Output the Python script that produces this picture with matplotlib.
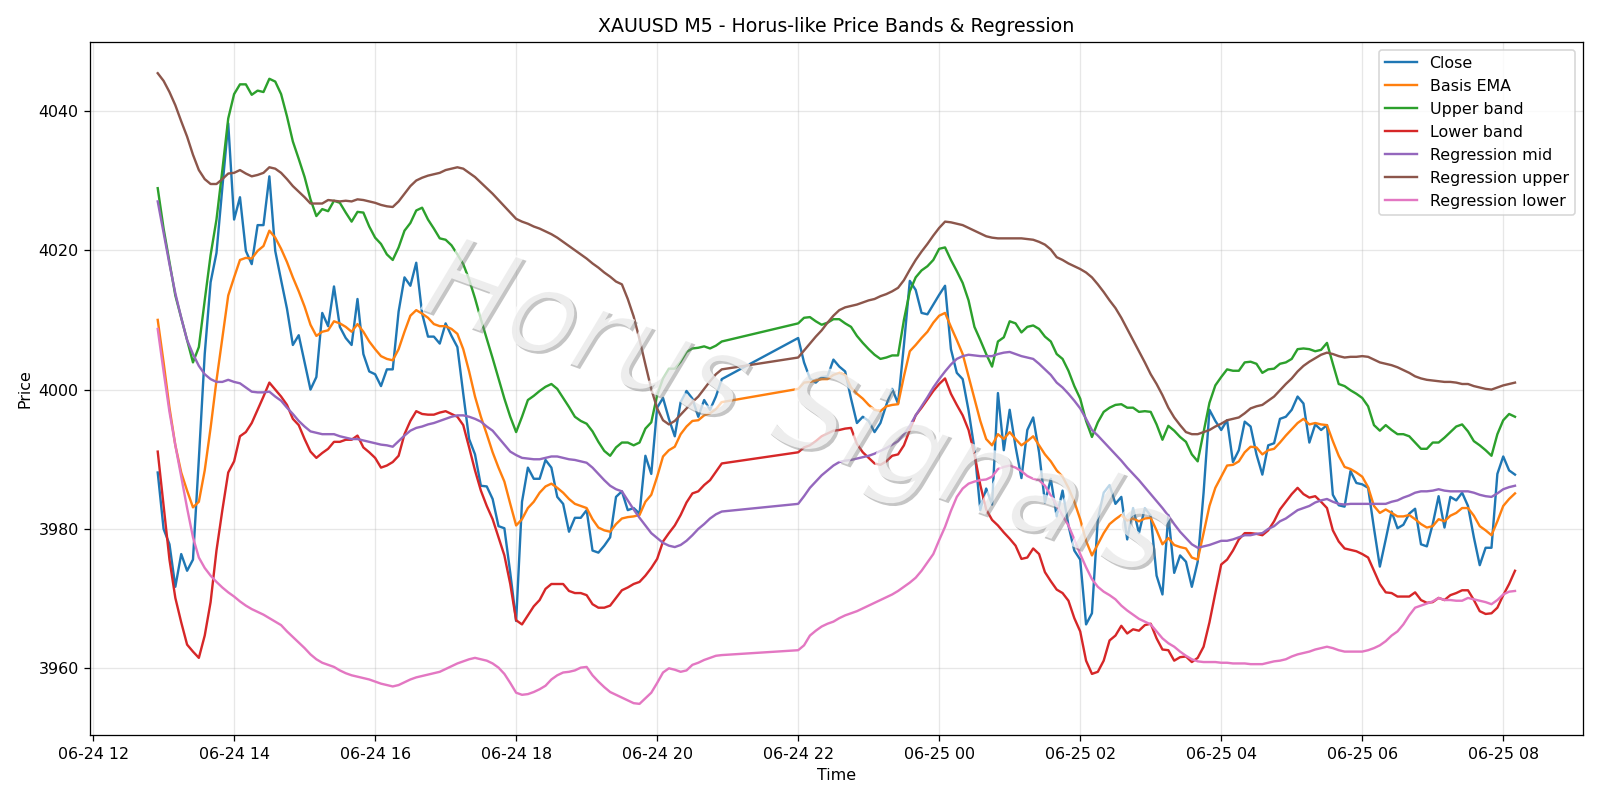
import matplotlib
matplotlib.use("Agg")
import matplotlib.pyplot as plt
import matplotlib.dates as mdates
import matplotlib.patheffects as pe
import pandas as pd

# ---- time axis: two trading sessions of M5 bars (gap 21:00-21:55) ----
session1_start = "2025-06-24 12:55"
session1_bars = 97
session2_start = "2025-06-24 22:00"
session2_bars = 123

close = [
    3988.1, 3980.0, 3977.8, 3971.7, 3976.4, 3974.0, 3975.6, 3990.0, 4005.1, 4015.4,
    4019.6, 4029.0, 4038.2, 4024.4, 4027.6, 4019.9, 4018.0, 4023.6, 4023.6, 4030.6,
    4019.9, 4015.7, 4011.6, 4006.4, 4007.8, 4003.9, 4000.0, 4001.8, 4011.0, 4009.1,
    4014.8, 4009.0, 4007.4, 4006.4, 4013.0, 4005.1, 4002.6, 4002.2, 4000.5, 4002.9,
    4002.9, 4011.2, 4016.1, 4014.9, 4018.2, 4010.9, 4007.6, 4007.6, 4006.6, 4009.5,
    4007.7, 4006.1, 3999.4, 3992.9, 3990.7, 3986.2, 3986.1, 3984.3, 3980.4, 3980.1,
    3973.7, 3966.8, 3983.9, 3988.8, 3987.2, 3987.2, 3989.9, 3988.8, 3984.6, 3983.6,
    3979.6, 3981.6, 3981.6, 3982.7, 3976.9, 3976.6, 3977.6, 3978.8, 3984.6, 3985.4,
    3982.7, 3983.0, 3982.2, 3990.5, 3987.9, 3997.4, 3998.8, 3995.8, 3993.3, 3998.2,
    3999.8, 3998.7, 3996.1, 3998.5, 3997.1, 3999.0, 4001.5,
    4007.4, 4003.9, 4001.6, 4001.0, 4001.8, 4001.9, 4004.3, 4003.3, 4002.6, 3998.7,
    3995.2, 3996.1, 3995.5, 3993.9, 3995.2, 3997.8, 4000.1, 3998.0, 4006.4, 4015.6,
    4014.3, 4011.0, 4010.8, 4012.2, 4013.6, 4014.9, 4005.8, 4002.4, 4001.5, 3997.0,
    3991.5, 3982.7, 3985.8, 3983.5, 3999.5, 3991.3, 3997.1, 3991.8, 3987.3, 3994.2,
    3996.0, 3991.0, 3983.8, 3987.2, 3981.8, 3985.5, 3980.5, 3976.9, 3975.6, 3966.3,
    3967.9, 3981.4, 3985.2, 3986.3, 3983.6, 3984.6, 3978.5, 3983.0, 3979.4, 3983.0,
    3981.9, 3973.3, 3970.6, 3982.0, 3973.7, 3976.2, 3975.3, 3971.7, 3975.3, 3985.2,
    3997.1, 3995.5, 3994.2, 3995.6, 3989.6, 3991.3, 3995.4, 3994.7, 3990.7, 3987.8,
    3992.0, 3992.3, 3995.8, 3996.1, 3997.1, 3999.0, 3998.0, 3992.4, 3995.0, 3994.2,
    3994.9, 3984.9, 3983.4, 3983.2, 3988.3, 3986.6, 3986.4, 3985.9, 3980.1, 3974.6,
    3978.5, 3982.5, 3980.1, 3980.6, 3982.2, 3982.9, 3977.8, 3977.5, 3980.7, 3984.7,
    3980.2, 3984.6, 3984.1, 3985.2, 3983.3, 3978.8, 3974.8, 3977.3, 3977.3, 3987.9,
    3990.4, 3988.4, 3987.8,
]

basis_ema = [
    4010.0, 4003.9, 3997.4, 3992.0, 3988.1, 3985.5, 3983.1, 3983.9, 3988.4, 3994.5,
    4001.3, 4007.4, 4013.5, 4016.1, 4018.6, 4018.9, 4018.8, 4019.9, 4020.6, 4022.8,
    4021.8, 4020.2, 4018.3, 4016.1, 4014.1, 4011.9, 4009.3, 4007.7, 4008.3, 4008.5,
    4009.8, 4009.5, 4009.0, 4008.3, 4009.4, 4008.3, 4006.9, 4005.8, 4004.8, 4004.4,
    4004.2, 4005.8, 4008.3, 4010.6, 4011.4, 4010.9, 4010.3, 4009.4, 4009.1, 4009.1,
    4008.7, 4008.0, 4005.8, 4002.6, 3999.0, 3996.1, 3993.6, 3991.0, 3988.8, 3986.8,
    3983.6, 3980.5, 3981.4, 3983.0, 3983.9, 3985.2, 3986.1, 3986.5, 3985.9, 3985.2,
    3984.3, 3983.6, 3983.3, 3983.0, 3981.4, 3980.2, 3979.8, 3979.6, 3980.7, 3981.5,
    3981.7, 3981.8, 3982.0, 3983.9, 3984.9, 3987.5, 3990.4, 3991.3, 3991.8, 3993.6,
    3994.7, 3995.5, 3995.6, 3996.3, 3996.6, 3997.2, 3998.2,
    4000.1, 4001.0, 4001.1, 4001.3, 4001.5, 4001.5, 4002.1, 4002.4, 4002.1, 4000.3,
    3999.4, 3998.7, 3997.8, 3997.1, 3996.9, 3997.6, 3997.8, 3997.9, 4001.9, 4005.5,
    4006.4, 4007.4, 4008.3, 4009.6, 4010.6, 4011.0, 4009.0, 4007.1, 4005.1, 4001.9,
    3998.7, 3995.5, 3992.9, 3992.0, 3993.6, 3992.9, 3993.9, 3992.9, 3992.0, 3992.6,
    3993.3, 3992.0, 3990.7, 3989.7, 3988.4, 3987.5, 3985.9, 3983.9, 3981.4, 3978.3,
    3976.2, 3977.8, 3979.4, 3980.7, 3981.4, 3982.0, 3981.2, 3981.5, 3981.1, 3981.5,
    3981.6, 3979.8, 3977.8, 3978.7, 3977.7, 3977.4, 3977.2, 3975.9, 3975.6, 3979.4,
    3983.3, 3985.9, 3987.5, 3989.1, 3989.2, 3989.7, 3991.0, 3991.8, 3991.7, 3990.7,
    3991.3, 3991.5, 3992.4, 3993.4, 3994.3, 3995.2, 3995.8, 3995.0, 3995.2, 3995.0,
    3994.9, 3992.6, 3990.5, 3988.9, 3988.6, 3988.1, 3987.5, 3986.0, 3983.3, 3982.3,
    3982.8, 3982.3, 3981.8, 3981.8, 3982.0, 3981.4, 3980.7, 3980.2, 3980.4, 3981.4,
    3981.1, 3981.9, 3982.3, 3983.0, 3983.0, 3981.9, 3980.4, 3979.8, 3979.1, 3981.1,
    3983.3, 3984.3, 3985.1,
]

upper_band = [
    4028.9, 4023.1, 4018.3, 4013.5, 4010.3, 4007.1, 4003.9, 4006.1, 4012.8, 4019.3,
    4024.4, 4031.5, 4038.9, 4042.4, 4043.8, 4043.8, 4042.3, 4042.9, 4042.7, 4044.6,
    4044.2, 4042.4, 4039.2, 4035.6, 4033.1, 4030.5, 4027.3, 4024.9, 4025.9, 4025.6,
    4027.1, 4026.8, 4025.4, 4024.1, 4025.5, 4025.4, 4023.4, 4021.8, 4020.9, 4019.4,
    4018.6, 4020.4, 4022.8, 4023.9, 4025.7, 4026.1, 4024.4, 4023.1, 4021.7, 4021.5,
    4020.7, 4019.4, 4018.0, 4015.8, 4013.1, 4010.1, 4007.3, 4004.5, 4001.6, 3998.7,
    3996.1, 3993.9, 3996.1, 3998.5, 3999.1, 3999.8, 4000.4, 4000.8, 4000.1, 3998.8,
    3997.5, 3996.1, 3995.5, 3995.1, 3994.0, 3992.5, 3991.2, 3990.5, 3991.7, 3992.4,
    3992.4, 3992.0, 3992.4, 3994.4, 3995.3, 3999.2, 4001.6, 4003.0, 4003.0, 4004.0,
    4005.4, 4005.9, 4006.0, 4006.2, 4005.9, 4006.3, 4006.9,
    4009.5, 4010.3, 4010.4, 4009.8, 4009.3, 4009.6, 4010.1, 4010.1, 4009.5, 4009.0,
    4007.7, 4006.7, 4005.8, 4005.0, 4004.4, 4004.6, 4004.9, 4004.9, 4010.0, 4014.1,
    4016.1, 4017.1, 4017.7, 4018.6, 4020.2, 4020.4, 4018.6, 4017.0, 4015.3, 4012.8,
    4009.0, 4007.1, 4005.1, 4003.3, 4006.9, 4007.5, 4009.8, 4009.5, 4008.2, 4009.0,
    4009.2, 4008.7, 4007.6, 4006.9, 4005.1, 4004.4, 4002.7, 4000.5, 3998.7, 3995.5,
    3993.2, 3995.3, 3996.8, 3997.4, 3997.8, 3997.9, 3997.4, 3997.4, 3996.8, 3996.9,
    3996.8, 3995.0, 3992.8, 3994.8, 3994.1, 3993.2, 3992.5, 3990.7, 3989.7, 3993.9,
    3998.1, 4000.6, 4001.8, 4002.9, 4002.7, 4002.7, 4003.9, 4004.0, 4003.7, 4002.4,
    4002.9, 4003.0, 4003.7, 4003.9, 4004.4, 4005.8, 4005.9, 4005.8, 4005.5, 4005.7,
    4006.7, 4003.7, 4000.8, 4000.5, 3999.9, 3999.4, 3998.8, 3997.6, 3994.9, 3994.1,
    3994.9, 3994.2, 3993.6, 3993.6, 3993.3, 3992.4, 3991.5, 3991.5, 3992.4, 3992.4,
    3993.1, 3993.9, 3994.7, 3995.0, 3994.0, 3992.6, 3992.0, 3991.3, 3990.5, 3993.6,
    3995.6, 3996.5, 3996.1,
]

lower_band = [
    3991.1, 3983.3, 3975.6, 3970.1, 3966.6, 3963.4, 3962.4, 3961.5, 3964.7, 3969.5,
    3976.9, 3982.7, 3988.1, 3989.7, 3993.3, 3993.9, 3995.2, 3997.1, 3999.0, 4001.0,
    4000.0, 3999.0, 3997.8, 3995.8, 3994.9, 3992.9, 3991.1, 3990.2, 3990.9, 3991.5,
    3992.5, 3992.5, 3992.8, 3992.8, 3993.4, 3991.7, 3991.0, 3990.2, 3988.8, 3989.1,
    3989.6, 3990.5, 3993.6, 3995.5, 3996.9, 3996.5, 3996.4, 3996.4, 3996.7, 3996.9,
    3996.5, 3996.1, 3994.9, 3991.7, 3988.4, 3985.5, 3983.3, 3981.4, 3978.8, 3976.2,
    3972.1, 3966.9, 3966.3, 3967.6, 3968.9, 3969.8, 3971.4, 3972.1, 3972.1, 3972.1,
    3971.1, 3970.8, 3970.8, 3970.5, 3969.2, 3968.7, 3968.7, 3969.0, 3970.1, 3971.2,
    3971.6, 3972.1, 3972.4, 3973.3, 3974.4, 3975.7, 3978.2, 3979.4, 3980.5, 3982.0,
    3983.8, 3985.1, 3985.4, 3986.3, 3987.0, 3988.2, 3989.4,
    3991.0, 3991.7, 3992.0, 3992.6, 3993.3, 3993.7, 3994.1, 3994.2, 3994.4, 3994.5,
    3992.2, 3991.0, 3990.2, 3989.4, 3989.2, 3989.7, 3990.5, 3990.7, 3992.0, 3994.2,
    3996.3, 3997.4, 3998.6, 3999.8, 4000.8, 4001.6, 3999.4, 3997.8, 3996.3, 3994.2,
    3990.7, 3986.3, 3982.8, 3981.3, 3980.5, 3979.5, 3978.6, 3977.6, 3975.7, 3975.9,
    3977.2, 3976.4, 3973.8, 3972.5, 3971.3, 3970.8, 3969.7, 3967.2, 3965.3, 3961.1,
    3959.2, 3959.5, 3961.1, 3964.0, 3964.7, 3966.1, 3965.0, 3965.6, 3965.4, 3966.2,
    3966.4, 3964.3, 3962.7, 3962.6, 3961.1, 3961.6, 3961.7, 3960.9, 3961.5, 3963.1,
    3966.6, 3970.8, 3974.9, 3975.6, 3976.9, 3978.5, 3979.4, 3979.4, 3979.3, 3979.1,
    3979.8, 3981.1, 3982.8, 3983.9, 3985.0, 3985.9, 3985.0, 3984.5, 3984.7, 3983.9,
    3983.0, 3979.8, 3978.2, 3977.2, 3977.0, 3976.8, 3976.4, 3975.9, 3974.0, 3972.1,
    3970.9, 3970.8, 3970.3, 3970.3, 3970.3, 3970.9, 3969.8, 3969.4, 3969.5, 3970.1,
    3969.8, 3970.5, 3970.8, 3971.2, 3971.2, 3969.8, 3968.2, 3967.8, 3967.9, 3968.7,
    3970.5, 3972.1, 3974.0,
]

regression_mid = [
    4027.0, 4022.5, 4018.0, 4013.8, 4010.3, 4007.1, 4005.1, 4003.4, 4002.2, 4001.5,
    4001.1, 4001.1, 4001.4, 4001.1, 4000.9, 4000.3, 3999.7, 3999.6, 3999.6, 3999.7,
    3999.0, 3998.4, 3997.4, 3996.5, 3995.5, 3994.7, 3994.0, 3993.8, 3993.6, 3993.6,
    3993.6, 3993.3, 3993.1, 3992.9, 3992.9, 3992.7, 3992.5, 3992.3, 3992.1, 3992.0,
    3991.8, 3992.6, 3993.4, 3994.1, 3994.5, 3994.7, 3995.0, 3995.2, 3995.5, 3995.8,
    3996.1, 3996.3, 3996.3, 3996.1, 3995.8, 3995.4, 3994.7, 3994.1, 3993.1, 3992.1,
    3991.1, 3990.6, 3990.2, 3990.1, 3990.0, 3990.0, 3990.2, 3990.4, 3990.4, 3990.2,
    3990.0, 3989.9, 3989.7, 3989.5, 3988.8, 3987.9, 3987.0, 3986.2, 3985.7, 3985.4,
    3984.1, 3982.8, 3981.6, 3980.5, 3979.4, 3978.7, 3978.0, 3977.6, 3977.4, 3977.7,
    3978.3, 3979.1, 3980.0, 3980.7, 3981.5, 3982.1, 3982.5,
    3983.6, 3984.7, 3985.9, 3986.8, 3987.7, 3988.4, 3989.1, 3989.6, 3989.8, 3989.9,
    3990.1, 3990.3, 3990.5, 3990.8, 3991.2, 3991.6, 3992.1, 3992.6, 3993.6, 3994.8,
    3996.3, 3997.6, 3998.9, 4000.3, 4001.5, 4002.6, 4003.6, 4004.4, 4004.8, 4005.0,
    4004.9, 4004.8, 4004.8, 4004.8, 4005.1, 4005.3, 4005.4, 4005.1, 4004.8, 4004.6,
    4004.4, 4003.7, 4002.9, 4002.1, 4001.0, 4000.3, 3999.4, 3998.4, 3997.3, 3995.8,
    3994.2, 3993.4, 3992.5, 3991.6, 3990.7, 3989.8, 3988.8, 3987.9, 3987.0, 3986.0,
    3985.0, 3984.0, 3983.0, 3981.9, 3980.7, 3979.6, 3978.7, 3977.8, 3977.3, 3977.5,
    3977.7, 3978.0, 3978.3, 3978.3, 3978.5, 3978.8, 3979.1, 3979.1, 3979.3, 3979.4,
    3980.0, 3980.4, 3981.1, 3981.5, 3982.1, 3982.7, 3983.0, 3983.3, 3983.8, 3984.1,
    3984.3, 3983.9, 3983.6, 3983.5, 3983.6, 3983.6, 3983.6, 3983.6, 3983.6, 3983.6,
    3983.6, 3983.9, 3984.1, 3984.5, 3984.8, 3985.2, 3985.4, 3985.4, 3985.5, 3985.7,
    3985.5, 3985.4, 3985.4, 3985.4, 3985.4, 3985.2, 3984.9, 3984.7, 3984.6, 3985.1,
    3985.7, 3986.0, 3986.2,
]

regression_upper = [
    4045.4, 4044.3, 4042.7, 4040.8, 4038.5, 4036.3, 4033.7, 4031.5, 4030.2, 4029.5,
    4029.5, 4030.2, 4031.0, 4031.1, 4031.5, 4031.0, 4030.6, 4030.8, 4031.1, 4031.9,
    4031.7, 4031.1, 4030.2, 4029.2, 4028.4, 4027.6, 4026.7, 4026.7, 4026.7, 4027.2,
    4027.1, 4027.0, 4027.1, 4027.0, 4027.3, 4027.2, 4027.0, 4026.8, 4026.5, 4026.3,
    4026.2, 4027.0, 4028.1, 4029.2, 4030.0, 4030.4, 4030.7, 4030.9, 4031.1, 4031.5,
    4031.7, 4031.9, 4031.7, 4031.1, 4030.5, 4029.7, 4028.9, 4028.1, 4027.2, 4026.3,
    4025.4, 4024.5, 4024.1, 4023.8, 4023.4, 4023.1, 4022.7, 4022.3, 4021.8, 4021.2,
    4020.6, 4020.0, 4019.4, 4018.8, 4018.1, 4017.5, 4016.8, 4016.2, 4015.5, 4015.1,
    4013.0, 4010.5, 4007.2, 4003.6, 4000.1, 3997.3, 3995.6, 3995.0, 3995.5, 3996.4,
    3997.3, 3998.2, 3999.0, 4000.1, 4001.2, 4002.2, 4002.9,
    4004.6, 4005.6, 4006.6, 4007.6, 4008.5, 4009.6, 4010.6, 4011.4, 4011.8, 4012.0,
    4012.2, 4012.5, 4012.8, 4013.0, 4013.4, 4013.7, 4014.1, 4014.6, 4015.7, 4017.2,
    4018.6, 4019.8, 4020.9, 4022.1, 4023.2, 4024.1, 4024.0, 4023.8, 4023.6, 4023.2,
    4022.8, 4022.4, 4022.0, 4021.8, 4021.7, 4021.7, 4021.7, 4021.7, 4021.7, 4021.6,
    4021.5, 4021.2, 4020.8, 4020.1, 4019.0, 4018.6, 4018.1, 4017.7, 4017.3, 4016.8,
    4016.1, 4015.1, 4014.0, 4012.8, 4011.7, 4010.3, 4008.7, 4007.1, 4005.5, 4003.9,
    4002.2, 4000.8, 3999.2, 3997.4, 3996.0, 3994.9, 3993.9, 3993.6, 3993.6, 3993.9,
    3994.2, 3994.7, 3995.1, 3995.6, 3995.8, 3996.0, 3996.6, 3997.3, 3997.6, 3997.8,
    3998.4, 3999.0, 3999.9, 4000.8, 4001.6, 4002.6, 4003.4, 4004.0, 4004.5, 4005.0,
    4005.3, 4005.1, 4004.8, 4004.6, 4004.7, 4004.7, 4004.8, 4004.7, 4004.3, 4003.9,
    4003.7, 4003.5, 4003.2, 4002.8, 4002.4, 4001.9, 4001.6, 4001.4, 4001.3, 4001.2,
    4001.1, 4001.1, 4001.0, 4000.8, 4000.8, 4000.5, 4000.3, 4000.1, 4000.0, 4000.3,
    4000.6, 4000.8, 4001.0,
]

regression_lower = [
    4008.7, 4002.6, 3996.8, 3992.0, 3987.5, 3983.0, 3978.8, 3975.9, 3974.4, 3973.3,
    3972.4, 3971.6, 3970.9, 3970.3, 3969.6, 3969.0, 3968.5, 3968.1, 3967.7, 3967.2,
    3966.7, 3966.2, 3965.3, 3964.5, 3963.7, 3962.9, 3962.0, 3961.3, 3960.8, 3960.5,
    3960.2, 3959.7, 3959.3, 3959.0, 3958.8, 3958.6, 3958.4, 3958.1, 3957.8, 3957.6,
    3957.4, 3957.6, 3958.0, 3958.4, 3958.7, 3958.9, 3959.1, 3959.3, 3959.5, 3959.9,
    3960.3, 3960.7, 3961.0, 3961.3, 3961.5, 3961.3, 3961.1, 3960.7, 3960.1, 3959.2,
    3957.9, 3956.5, 3956.2, 3956.3, 3956.6, 3957.0, 3957.5, 3958.4, 3959.0, 3959.4,
    3959.5, 3959.7, 3960.1, 3960.2, 3959.0, 3958.1, 3957.3, 3956.6, 3956.2, 3955.8,
    3955.4, 3955.0, 3954.9, 3955.7, 3956.5, 3957.9, 3959.4, 3960.0, 3959.8, 3959.5,
    3959.7, 3960.5, 3960.8, 3961.2, 3961.5, 3961.8, 3961.9,
    3962.6, 3963.3, 3964.7, 3965.4, 3966.0, 3966.4, 3966.7, 3967.2, 3967.6, 3967.9,
    3968.2, 3968.6, 3969.0, 3969.4, 3969.8, 3970.2, 3970.6, 3971.1, 3971.7, 3972.3,
    3973.0, 3974.0, 3975.2, 3976.4, 3978.4, 3980.3, 3982.6, 3984.6, 3985.8, 3986.5,
    3986.8, 3987.0, 3987.1, 3987.5, 3988.6, 3988.9, 3989.1, 3988.8, 3988.3, 3987.6,
    3987.2, 3987.0, 3986.2, 3984.8, 3983.4, 3981.9, 3980.5, 3978.5, 3976.4, 3974.5,
    3972.8, 3971.7, 3971.0, 3970.5, 3969.9, 3969.0, 3968.3, 3967.7, 3967.1, 3966.7,
    3966.3, 3965.3, 3964.3, 3963.6, 3963.1, 3962.4, 3961.8, 3961.3, 3961.0, 3960.9,
    3960.9, 3960.9, 3960.8, 3960.8, 3960.7, 3960.7, 3960.7, 3960.6, 3960.6, 3960.6,
    3960.8, 3961.0, 3961.1, 3961.3, 3961.7, 3962.0, 3962.2, 3962.4, 3962.7, 3962.9,
    3963.1, 3962.9, 3962.6, 3962.4, 3962.4, 3962.4, 3962.4, 3962.6, 3962.9, 3963.3,
    3963.9, 3964.7, 3965.3, 3966.3, 3967.6, 3968.7, 3969.0, 3969.3, 3969.6, 3970.1,
    3969.8, 3969.8, 3969.7, 3969.7, 3970.1, 3969.9, 3969.7, 3969.5, 3969.2, 3969.8,
    3970.6, 3971.0, 3971.1,
]

series_labels = ["Close", "Basis EMA", "Upper band", "Lower band",
                 "Regression mid", "Regression upper", "Regression lower"]

times = pd.DatetimeIndex(
    list(pd.date_range(session1_start, periods=session1_bars, freq="5min"))
    + list(pd.date_range(session2_start, periods=session2_bars, freq="5min"))
)

DPI = 1600 / 14
fig, ax = plt.subplots(figsize=(14, 7), dpi=DPI)
for vals, lab in zip([close, basis_ema, upper_band, lower_band,
                      regression_mid, regression_upper, regression_lower],
                     series_labels):
    ax.plot(times, vals, label=lab, linewidth=1.5)

ax.set_title("XAUUSD M5 - Horus-like Price Bands & Regression")
ax.set_xlabel("Time")
ax.set_ylabel("Price")
ax.grid(True, alpha=0.3)
ax.legend(loc="upper right")
ax.xaxis.set_major_locator(mdates.HourLocator(interval=2))
ax.xaxis.set_major_formatter(mdates.DateFormatter("%m-%d %H"))

fig.tight_layout()

fig.text(0.497, 0.485, "Horus Signals", fontsize=72, style="italic",
         color="white", alpha=0.7, rotation=-20,
         ha="center", va="center", zorder=10,
         path_effects=[pe.withSimplePatchShadow(offset=(1.8, -1.8),
                                                shadow_rgbFace="0.5",
                                                alpha=0.45)])

fig.savefig("out.png", dpi=DPI)
